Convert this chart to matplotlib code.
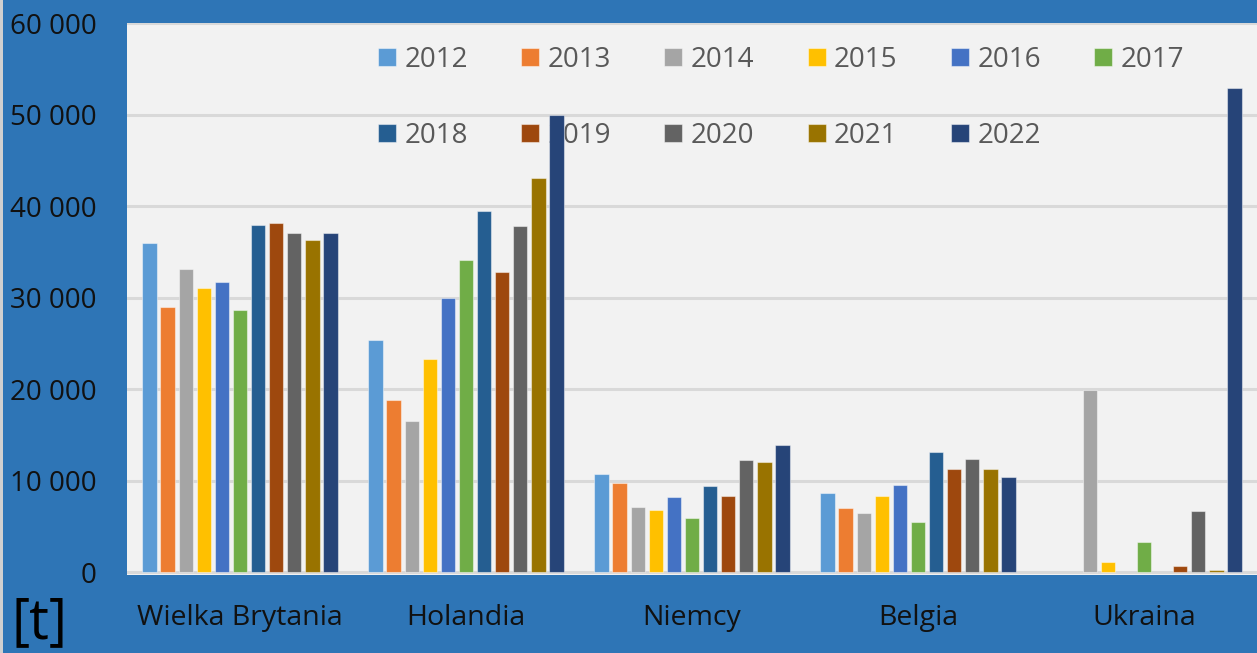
import matplotlib
matplotlib.use("Agg")
import matplotlib.pyplot as plt
from matplotlib.patches import Rectangle
from matplotlib.ticker import FuncFormatter
import numpy as np

plt.rcParams['font.family'] = ['Open Sans', 'DejaVu Sans']

countries = ["Wielka Brytania", "Holandia", "Niemcy", "Belgia", "Ukraina"]
years = ["2012", "2013", "2014", "2015", "2016", "2017",
         "2018", "2019", "2020", "2021", "2022"]

v2012 = [36000, 25400, 10800, 8700, 0]
v2013 = [29000, 18800, 9800, 7000, 0]
v2014 = [33200, 16600, 7200, 6500, 19900]
v2015 = [31100, 23300, 6800, 8300, 1100]
v2016 = [31700, 30000, 8200, 9600, 0]
v2017 = [28700, 34100, 5900, 5500, 3300]
v2018 = [38000, 39500, 9500, 13200, 0]
v2019 = [38200, 32800, 8300, 11300, 700]
v2020 = [37100, 37900, 12300, 12400, 6700]
v2021 = [36300, 43100, 12100, 11300, 300]
v2022 = [37100, 50000, 13900, 10400, 53000]

series = [v2012, v2013, v2014, v2015, v2016, v2017,
          v2018, v2019, v2020, v2021, v2022]
colors = ["#5B9BD5", "#ED7D31", "#A5A5A5", "#FFC000", "#4472C4", "#70AD47",
          "#255E91", "#9E480E", "#636363", "#997300", "#264478"]

BG = "#2E75B6"
fig = plt.figure(figsize=(12.57, 6.53), dpi=100, facecolor=BG)
W, H = 1257, 653
ax = fig.add_axes([127 / W, (H - 575) / H, 1 - 127 / W, (575 - 23) / H])
ax.set_facecolor("#F2F2F2")

x = np.arange(len(countries))
slot = 0.080
bw = 0.064
handles = []
for i, (vals, c) in enumerate(zip(series, colors)):
    off = (i - (len(series) - 1) / 2) * slot
    lws = [0.8 if v > 0 else 0.0 for v in vals]
    b = ax.bar(x + off, vals, width=bw, color=c, edgecolor=(1, 1, 1, 0.45),
               linewidth=lws, zorder=3, label=years[i])
    handles.append(b)

ax.set_xlim(-0.5, len(countries) - 0.5)
ax.set_ylim(-280, 60050)
ax.set_yticks(np.arange(0, 60001, 10000))
ax.yaxis.set_major_formatter(FuncFormatter(lambda v, p: f"{int(v):,}".replace(",", " ")))
ax.grid(axis="y", color="#D9D9D9", linewidth=2.2, zorder=0)
ax.set_axisbelow(True)
for s in ax.spines.values():
    s.set_visible(False)
ax.set_xticks(x)
ax.set_xticklabels(countries, fontsize=20.5, color="#111111")
ax.tick_params(axis="both", length=0)
ax.tick_params(axis="x", pad=21)
ax.tick_params(axis="y", pad=22, labelsize=20, labelcolor="#111111")

order = [0, 6, 1, 7, 2, 8, 3, 9, 4, 10, 5]
leg = ax.legend([handles[k] for k in order], [years[k] for k in order],
                ncol=6, loc="upper left", bbox_to_anchor=(0.222, 0.959),
                frameon=False, fontsize=20, labelcolor="#595959",
                handlelength=0.65, handleheight=0.65, handletextpad=0.3,
                columnspacing=1.92, labelspacing=1.73,
                borderpad=0, borderaxespad=0)
leg.set_zorder(2)

fig.text(11 / W, 1 - 624 / H, "[t]", fontsize=40, color="black",
         ha="left", va="center")
fig.patches.append(Rectangle((0, 0), 3 / W, 1, transform=fig.transFigure,
                             facecolor="#D0D0D0", edgecolor="none"))

fig.savefig("out.png", dpi=100, facecolor=BG)
